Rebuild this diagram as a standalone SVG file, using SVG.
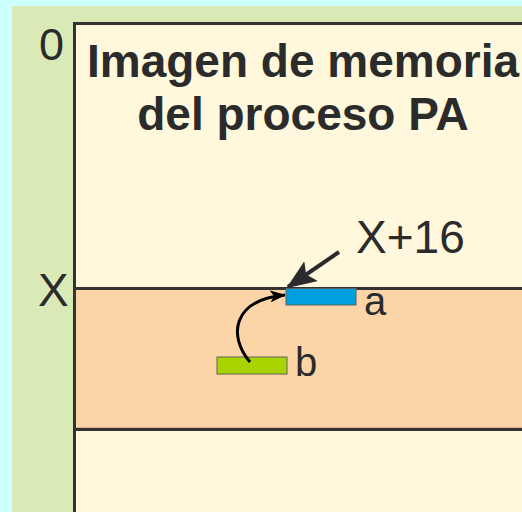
<svg xmlns="http://www.w3.org/2000/svg" width="522" height="512" viewBox="0 0 522 512">
  <style>
    .lbl { font-family: "Liberation Sans", Arial, sans-serif; fill: #2b2b2b; }
    .title { font-family: "Liberation Sans", Arial, sans-serif; font-weight: bold; font-size: 46px; fill: #2b2b2b; }
    .border { stroke: #333333; stroke-width: 3; fill: none; }
    .var { stroke: #606060; stroke-width: 1; }
  </style>
  <defs>
    <marker id="bigHead" markerUnits="userSpaceOnUse" markerWidth="30" markerHeight="24" viewBox="0 0 30 24" refX="28" refY="12" orient="auto">
      <path d="M0,0 L30,12 L0,24 L6,12 Z" fill="#2b2b2b"/>
    </marker>
    <marker id="smallHead" markerUnits="userSpaceOnUse" markerWidth="16" markerHeight="12" viewBox="0 0 16 12" refX="15" refY="6" orient="auto">
      <path d="M0,0 L16,6 L0,12 L4,6 Z" fill="#000000"/>
    </marker>
  </defs>

  <rect x="0" y="0" width="522" height="512" fill="#ccffff"/>
  <rect x="12" y="6" width="510" height="506" fill="#d9eab6"/>

  <g id="memory-image">
    <rect x="74" y="23" width="460" height="500" fill="#fff8dc"/>
    <text class="title" x="303" y="77" text-anchor="middle">Imagen de memoria</text>
    <text class="title" x="303" y="130" text-anchor="middle">del proceso PA</text>
  </g>

  <g id="region">
    <rect x="75" y="288" width="460" height="140" fill="#fbd5a7" stroke="#b08050" stroke-width="0.8"/>
    <line class="border" x1="74" y1="288.5" x2="522" y2="288.5"/>
    <line class="border" x1="74" y1="429.5" x2="522" y2="429.5"/>
  </g>

  <g id="frame">
    <path class="border" d="M74.5,512 L74.5,23.5 L522,23.5"/>
  </g>

  <g id="addr-0">
    <text class="lbl" x="39" y="60" font-size="45">0</text>
  </g>
  <g id="addr-X">
    <text class="lbl" x="38" y="306" font-size="46">X</text>
  </g>
  <g id="addr-X16">
    <text class="lbl" x="356" y="253" font-size="46">X+16</text>
  </g>

  <g id="var-a">
    <rect class="var" x="286" y="288.5" width="70" height="16.5" fill="#009fe0"/>
    <text class="lbl" x="364" y="315" font-size="40">a</text>
  </g>
  <g id="var-b">
    <rect class="var" x="217" y="357" width="70" height="17" fill="#aad400"/>
    <text class="lbl" x="295" y="376" font-size="40">b</text>
  </g>

  <g id="connectors">
    <line x1="339" y1="252" x2="288" y2="287" stroke="#2b2b2b" stroke-width="4" marker-end="url(#bigHead)"/>
    <path d="M250,362 C228,336 232,300 285,295" fill="none" stroke="#000000" stroke-width="3" marker-end="url(#smallHead)"/>
  </g>
</svg>
